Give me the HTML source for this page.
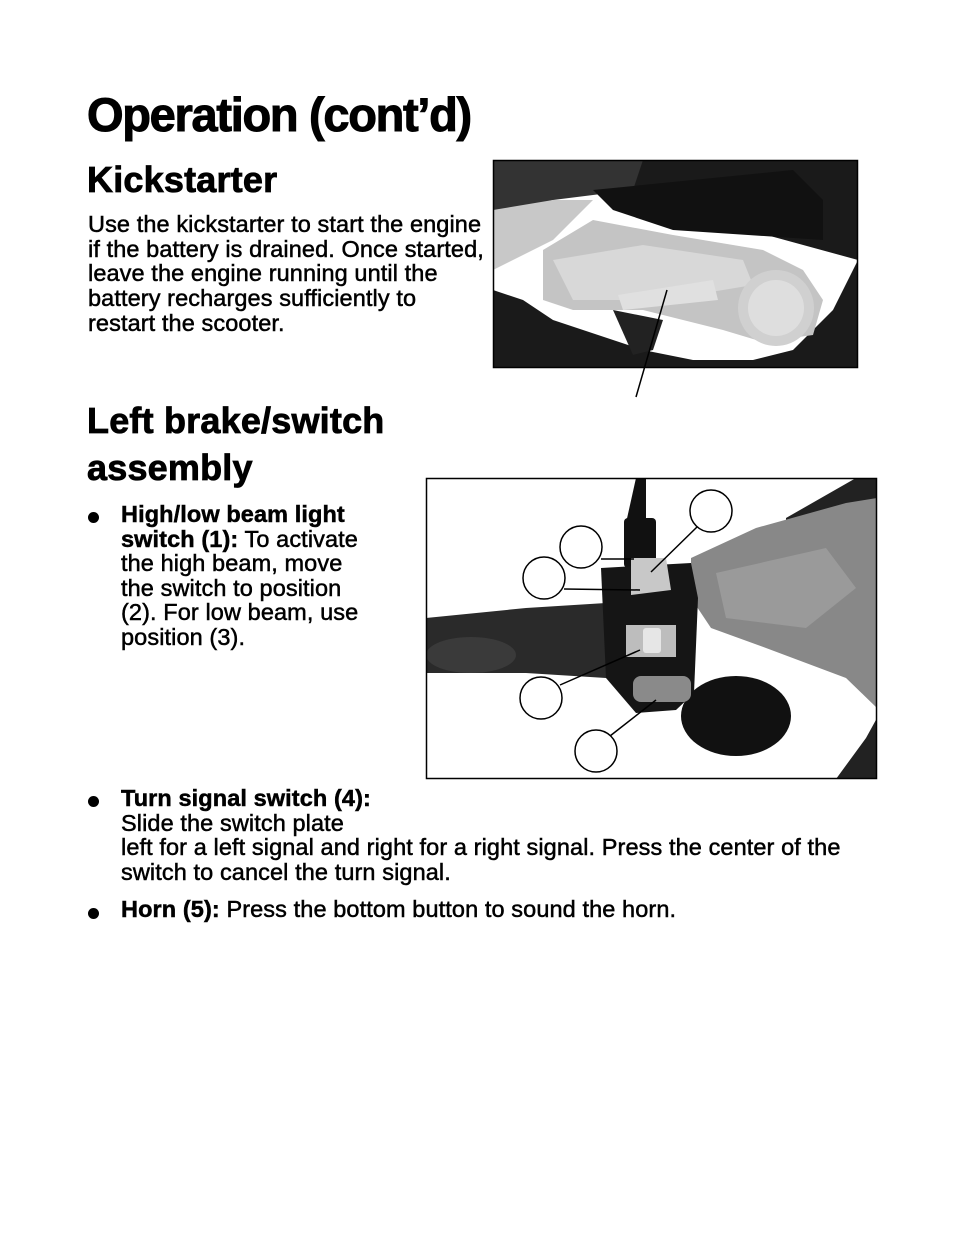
<!DOCTYPE html>
<html><head><meta charset="utf-8"><style>
body{margin:0;background:#fff;}
#p{position:relative;width:954px;height:1235px;overflow:hidden;font-family:"Liberation Sans",Arial,sans-serif;color:#000;}
.t{position:absolute;white-space:nowrap;line-height:1;}
.h1{font-size:47px;font-weight:bold;letter-spacing:-1.3px;-webkit-text-stroke:1px #000;}
.h2{font-size:36px;font-weight:bold;letter-spacing:0.2px;-webkit-text-stroke:0.8px #000;}
.b{font-size:23.5px;letter-spacing:0.1px;-webkit-text-stroke:0.5px #000;}
.b b{letter-spacing:0.1px;}
.dot{position:absolute;width:11px;height:11px;border-radius:50%;background:#000;}
svg{position:absolute;left:0;top:0;}
</style></head><body><div id="p">
<div class="t h1" style="left:87px;top:91px">Operation (cont’d)</div>
<div class="t h2" style="left:87px;top:162px">Kickstarter</div>
<div class="t b" style="left:88px;top:213px">Use the kickstarter to start the engine</div>
<div class="t b" style="left:88px;top:238px">if the battery is drained. Once started,</div>
<div class="t b" style="left:88px;top:262px">leave the engine running until the</div>
<div class="t b" style="left:88px;top:287px">battery recharges sufficiently to</div>
<div class="t b" style="left:88px;top:312px">restart the scooter.</div>
<div class="t h2" style="left:87px;top:403px">Left brake/switch</div>
<div class="t h2" style="left:87px;top:450px">assembly</div>
<div class="dot" style="left:88px;top:512px"></div>
<div class="t b" style="left:121px;top:503px"><b>High/low beam light</b></div>
<div class="t b" style="left:121px;top:528px"><b>switch (1):</b> To activate</div>
<div class="t b" style="left:121px;top:552px">the high beam, move</div>
<div class="t b" style="left:121px;top:577px">the switch to position</div>
<div class="t b" style="left:121px;top:601px">(2). For low beam, use</div>
<div class="t b" style="left:121px;top:626px">position (3).</div>
<div class="dot" style="left:88px;top:796px"></div>
<div class="t b" style="left:121px;top:787px"><b>Turn signal switch (4):</b></div>
<div class="t b" style="left:121px;top:812px">Slide the switch plate</div>
<div class="t b" style="left:121px;top:836px">left for a left signal and right for a right signal. Press the center of the</div>
<div class="t b" style="left:121px;top:861px">switch to cancel the turn signal.</div>
<div class="dot" style="left:88px;top:908px"></div>
<div class="t b" style="left:121px;top:898px"><b>Horn (5):</b> Press the bottom button to sound the horn.</div>

<svg width="954" height="1235">
<g transform="translate(493,160)">
<rect x="0" y="0" width="365" height="208" fill="#fff"/>
<path d="M0 0H365V208H0V130L30 140 60 160 150 190 200 200 260 200 300 190 340 150 365 100Z" fill="#1a1a1a"/>
<path d="M0 0H150L140 30 60 40 20 50 0 60Z" fill="#333"/>
<path d="M0 50 60 40 100 40 60 80 0 110Z" fill="#c8c8c8"/>
<path d="M100 30 300 10 330 40 330 80 180 70 120 50Z" fill="#111"/>
<path d="M50 90 100 60 180 75 270 90 310 110 330 140 320 175 270 182 230 170 150 150 80 150 50 140Z" fill="#c4c4c4"/>
<path d="M60 100 150 85 250 100 260 125 170 140 80 140Z" fill="#d8d8d8"/>
<circle cx="283" cy="148" r="38" fill="#d0d0d0"/>
<circle cx="283" cy="148" r="28" fill="#dedede"/>
<path d="M125 135 220 120 225 140 130 150Z" fill="#e0e0e0"/>
<path d="M120 150 170 160 160 190 140 195Z" fill="#222"/>
<rect x="0.5" y="0.5" width="364" height="207" fill="none" stroke="#000" stroke-width="1.5"/>
</g>
<line x1="667" y1="290" x2="636" y2="397" stroke="#000" stroke-width="1.5"/>

<g transform="translate(426,478)">
<rect x="0" y="0" width="451" height="301" fill="#fff"/>
<path d="M430 0H451V301H410L440 260 451 240V200L420 170 380 140 360 120V40Z" fill="#222"/>
<path d="M265 80 330 50 420 25 451 20V230L420 200 340 170 285 150 265 120Z" fill="#888"/>
<path d="M290 95 400 70 430 110 380 150 300 140Z" fill="#9a9a9a"/>
<path d="M0 140 100 130 180 125 180 200 100 195 0 195Z" fill="#2a2a2a"/>
<ellipse cx="45" cy="177" rx="45" ry="18" fill="#3a3a3a"/>
<path d="M210 0H220V45H200Z" fill="#111"/>
<rect x="198" y="40" width="32" height="50" rx="4" fill="#111"/>
<path d="M175 90 265 85 272 120 268 215 250 232 210 235 180 200Z" fill="#151515"/>
<ellipse cx="310" cy="238" rx="55" ry="40" fill="#111"/>
<path d="M205 80 240 80 245 112 205 117Z" fill="#c8c8c8"/>
<rect x="200" y="147" width="50" height="32" fill="#bdbdbd"/>
<rect x="217" y="150" width="18" height="25" rx="3" fill="#e6e6e6"/>
<rect x="207" y="198" width="58" height="26" rx="8" fill="#8a8a8a"/>
<rect x="0.5" y="0.5" width="450" height="300" fill="none" stroke="#000" stroke-width="1.5"/>
</g>
<g fill="none" stroke="#000" stroke-width="1.5">
<circle cx="711" cy="511" r="21"/>
<circle cx="581" cy="547" r="21"/>
<circle cx="544" cy="578" r="21"/>
<circle cx="541" cy="698" r="21"/>
<circle cx="596" cy="751" r="21"/>
<line x1="697" y1="527" x2="651" y2="572"/>
<line x1="601" y1="559" x2="634" y2="559"/>
<line x1="564" y1="589" x2="640" y2="590"/>
<line x1="560" y1="685" x2="640" y2="650"/>
<line x1="610" y1="736" x2="656" y2="700"/>
</g>
</svg>
</div></body></html>
